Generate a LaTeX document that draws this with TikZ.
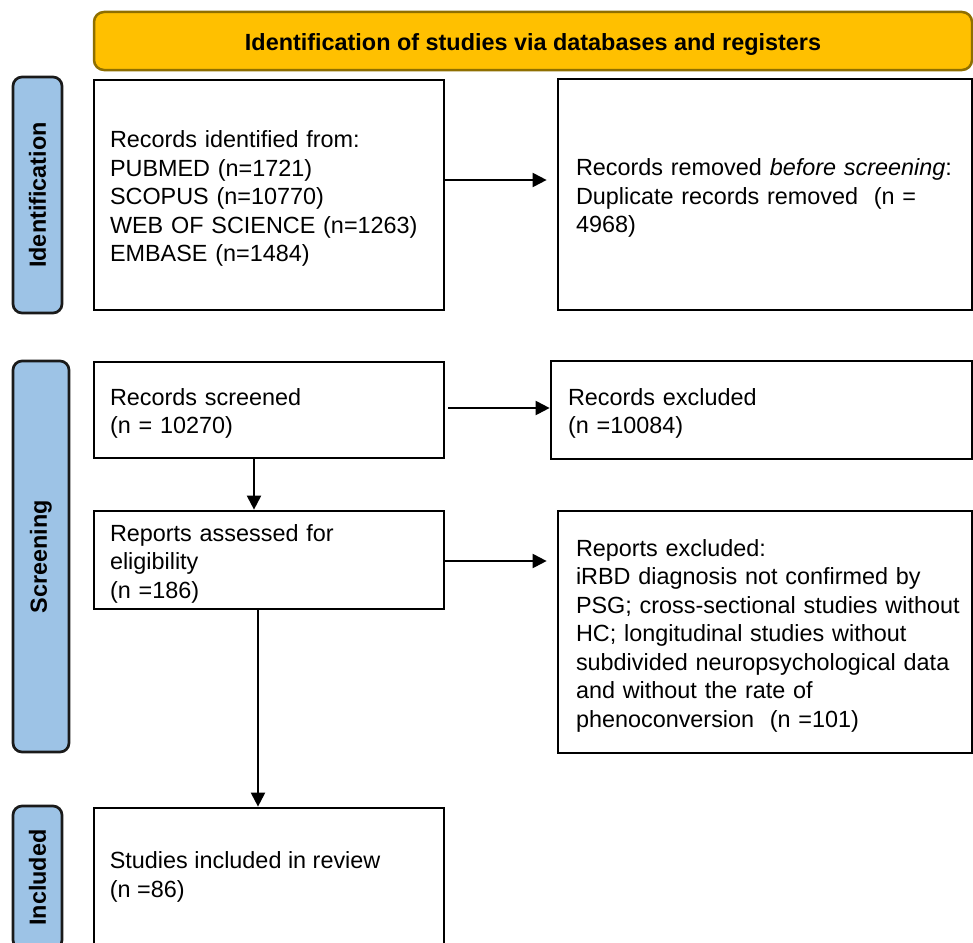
\documentclass[tikz,border=0pt]{standalone}
\usepackage{fontspec}
\setmainfont{Liberation Sans}
\usetikzlibrary{arrows.meta}
\definecolor{bannerfill}{HTML}{FFC000}
\definecolor{bannerdraw}{HTML}{8F6F00}
\definecolor{pillfill}{HTML}{9DC3E6}
\definecolor{pilldraw}{HTML}{1A1A1A}
\newcommand\tstrut{\rule{0pt}{24pt}}
\tikzset{
  box/.style={draw=black, line width=2.7pt, rectangle, align=left, anchor=center,
    font=\fontsize{23.4}{28.5}\selectfont, inner ysep=0pt},
  pill/.style={draw=pilldraw, fill=pillfill, line width=2.7pt, rounded corners=9pt,
    rotate=90, font=\fontsize{23.4}{28}\selectfont\bfseries, inner sep=0pt},
  banner/.style={draw=bannerdraw, fill=bannerfill, line width=2.5pt, rounded corners=10pt,
    font=\fontsize{23.4}{28}\selectfont\bfseries, inner sep=0pt, text height=18.5pt, text depth=0pt},
  arr/.style={line width=2pt, -{Triangle[length=14pt,width=14pt]}},
  txt/.style={font=\fontsize{23.4}{28.5}\selectfont, align=left, inner sep=0pt}
}
\begin{document}
\begin{tikzpicture}[x=1pt,y=-1pt]
\useasboundingbox (0,0) rectangle (973,942);
% banner
\node[banner, minimum width=878pt, minimum height=58pt] (banner) at (533,41)
  {Identification of studies via databases and registers};
% side pills
\node[pill, minimum width=236pt, minimum height=49pt] (identpill) at (37.5,195) {Identification};
\node[pill, minimum width=391pt, minimum height=56pt] (screenpill) at (41,556.5) {Screening};
\node[pill, minimum width=143pt, minimum height=49pt] (inclpill) at (37.5,877.5) {Included};
% boxes
\node[box, minimum width=350pt, minimum height=230pt, inner xsep=16pt, text width=318pt] (ident) at (269,195)
  {\tstrut Records identified from:\\PUBMED (n=1721)\\SCOPUS (n=10770)\\WEB OF SCIENCE (n=1263)\\EMBASE (n=1484)};
\node[box, minimum width=414pt, minimum height=231pt, inner xsep=18pt, text width=378pt] (removed) at (765,194.5)
  {\tstrut Records removed \textit{before screening}:\\Duplicate records removed\ \ (n =\\4968)};
\node[box, minimum width=350pt, minimum height=96pt, inner xsep=16pt, text width=318pt] (screened) at (269,410)
  {\tstrut Records screened\\(n = 10270)};
\node[box, minimum width=421pt, minimum height=98pt, inner xsep=17pt, text width=387pt] (recexcl) at (761.5,410)
  {\tstrut Records excluded\\(n =10084)};
\node[box, minimum width=350pt, minimum height=98pt, inner xsep=16pt, text width=318pt] (assessed) at (269,560)
  {\tstrut Reports assessed for\\eligibility\\(n =186)};
\node[box, minimum width=414pt, minimum height=242pt, inner xsep=18pt, text width=378pt] (repexcl) at (765,632)
  {\tstrut Reports excluded:\\iRBD diagnosis not confirmed by\\\mbox{PSG; cross-sectional studies without}\\HC; longitudinal studies without\\\mbox{subdivided neuropsychological data}\\and without the rate of\\phenoconversion\ \ (n =101)};
\node[box, minimum width=350pt, minimum height=160pt] (studies) at (269,888) {};
\node[txt, anchor=west] (studiestext) at ([xshift=17pt,yshift=11pt]studies.west)
  {Studies included in review\\(n =86)};
% connectors
\draw[arr, shorten >=10pt] ([yshift=15pt]ident.east) -- ([yshift=15pt]ident.east -| removed.west);
\draw[arr, shorten <=3pt] ([yshift=2pt]screened.east) -- ([yshift=2pt]screened.east -| recexcl.west);
\draw[arr, shorten >=10pt] ([yshift=-1pt]assessed.east) -- ([yshift=-1pt]assessed.east -| repexcl.west);
\draw[arr] ([xshift=-15pt]screened.south) -- ([xshift=-15pt]screened.south |- assessed.north);
\draw[arr] ([xshift=-11pt]assessed.south) -- ([xshift=-11pt]assessed.south |- studies.north);
\end{tikzpicture}
\end{document}
